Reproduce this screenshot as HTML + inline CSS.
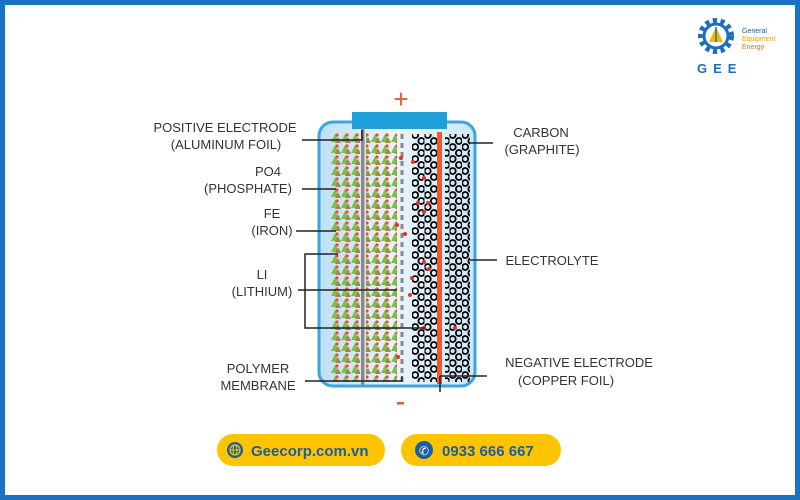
<!DOCTYPE html>
<html><head><meta charset="utf-8"><style>
html,body{margin:0;padding:0;}
body{width:800px;height:500px;overflow:hidden;background:#fff;}
svg{display:block}
text{font-family:"Liberation Sans",sans-serif;}
</style></head><body>
<svg width="800" height="500" viewBox="0 0 800 500">
<defs>
<linearGradient id="bg" x1="0" x2="1">
<stop offset="0" stop-color="#bfdff5"/><stop offset="0.5" stop-color="#e8f3fb"/><stop offset="1" stop-color="#cfe6f6"/>
</linearGradient>
<pattern id="green" x="331" y="132" width="10" height="11" patternUnits="userSpaceOnUse">
<polygon points="0,10 4,2 8,10" fill="#7cc242"/>
<polygon points="4,11 7,5 10,11" fill="#a8834f"/>
<circle cx="6" cy="3" r="1.6" fill="#ef4a2b"/>
</pattern>
<pattern id="hex" x="412" y="132" width="12.5" height="12" patternUnits="userSpaceOnUse">
<circle cx="3.2" cy="3" r="3" fill="none" stroke="#000" stroke-width="1.8"/>
<circle cx="9.4" cy="9" r="3" fill="none" stroke="#000" stroke-width="1.8"/>
<circle cx="9.4" cy="-3" r="3" fill="none" stroke="#000" stroke-width="1.8"/>
<circle cx="3.2" cy="15" r="3" fill="none" stroke="#000" stroke-width="1.8"/>
</pattern>
</defs>
<rect x="2.5" y="2.5" width="795" height="495" fill="#fff" stroke="#1b72c4" stroke-width="5"/>
<!-- logo -->
<g transform="translate(716,36)">
<circle r="15" fill="none" stroke="#1b6fc0" stroke-width="6" stroke-dasharray="4 3.5"/>
<circle r="12" fill="#fff" stroke="#1b6fc0" stroke-width="3"/>
<polygon points="0,-9 -7,6 7,6" fill="#f5b800"/>
<line x1="0" y1="-9" x2="0" y2="6" stroke="#1b6fc0" stroke-width="1.5"/>
</g>
<text x="742" y="33" font-size="7" fill="#1b5fa0">General</text>
<text x="742" y="41" font-size="7" fill="#e8a300">Equipment</text>
<text x="742" y="49" font-size="7" fill="#c0762a">Energy</text>
<text x="697" y="73" font-size="13" font-weight="bold" fill="#1b6fc0" letter-spacing="6">GEE</text>
<!-- battery -->
<rect x="319" y="122" width="156" height="264" rx="14" fill="url(#bg)" stroke="#3aa6e0" stroke-width="3"/>
<rect x="352" y="112" width="95" height="17" fill="#1e9fd8"/>
<rect x="331" y="132" width="29" height="250" fill="url(#green)"/>
<rect x="366" y="132" width="31" height="250" fill="url(#green)"/>
<rect x="361" y="128" width="3.5" height="257" fill="#8a8a8a"/>
<line x1="402" y1="134" x2="402" y2="384" stroke="#888" stroke-width="3" stroke-dasharray="5 4"/>
<rect x="412" y="134" width="25" height="248" fill="url(#hex)"/>
<rect x="445" y="134" width="25" height="248" fill="url(#hex)"/>
<rect x="437" y="132" width="5" height="252" fill="#ee5a2a"/>
<g fill="#e8302a">
<circle cx="401" cy="158" r="2"/><circle cx="413" cy="162" r="2"/><circle cx="424" cy="178" r="2"/>
<circle cx="418" cy="203" r="2"/><circle cx="428" cy="203" r="2"/><circle cx="424" cy="212" r="2"/>
<circle cx="397" cy="225" r="2"/><circle cx="405" cy="234" r="2"/><circle cx="424" cy="262" r="2"/>
<circle cx="429" cy="269" r="2"/><circle cx="412" cy="278" r="2"/><circle cx="410" cy="295" r="2"/>
<circle cx="424" cy="328" r="2"/><circle cx="455" cy="328" r="2"/><circle cx="398" cy="357" r="2"/>
</g>
<text x="401" y="108" font-size="26" fill="#ee5a2a" text-anchor="middle">+</text>
<rect x="397" y="402" width="7" height="2.5" fill="#ee5a2a"/>
<!-- connectors -->
<g stroke="#222" stroke-width="1.5" fill="none">
<polyline points="302,140 362,140 362,130"/>
<line x1="302" y1="189" x2="336" y2="189"/>
<line x1="296" y1="231" x2="336" y2="231"/>
<polyline points="338,254 305,254 305,328 425,328"/>
<line x1="298" y1="290" x2="397" y2="290"/>
<polyline points="305,381 402,381 402,376"/>
<line x1="470" y1="143" x2="493" y2="143"/>
<line x1="470" y1="260" x2="497" y2="260"/>
<polyline points="440,376 487,376"/>
<line x1="440" y1="376" x2="440" y2="392"/>
</g>
<!-- labels -->
<g font-size="13" fill="#333" text-anchor="middle">
<text x="225" y="132">POSITIVE ELECTRODE</text>
<text x="226" y="149">(ALUMINUM FOIL)</text>
<text x="268" y="176">PO4</text>
<text x="248" y="193">(PHOSPHATE)</text>
<text x="272" y="218">FE</text>
<text x="272" y="235">(IRON)</text>
<text x="262" y="279">LI</text>
<text x="262" y="296">(LITHIUM)</text>
<text x="258" y="373">POLYMER</text>
<text x="258" y="390">MEMBRANE</text>
<text x="541" y="137">CARBON</text>
<text x="542" y="154">(GRAPHITE)</text>
<text x="552" y="265">ELECTROLYTE</text>
<text x="579" y="367">NEGATIVE ELECTRODE</text>
<text x="566" y="385">(COPPER FOIL)</text>
</g>
<!-- buttons -->
<rect x="217" y="434" width="168" height="32" rx="16" fill="#ffc400"/>
<circle cx="235" cy="450" r="8" fill="#1b5fa0"/>
<circle cx="235" cy="450" r="5" fill="none" stroke="#ffc400" stroke-width="1.2"/>
<line x1="230" y1="450" x2="240" y2="450" stroke="#ffc400" stroke-width="1"/>
<ellipse cx="235" cy="450" rx="2" ry="5" fill="none" stroke="#ffc400" stroke-width="1"/>
<text x="251" y="456" font-size="15" font-weight="bold" fill="#1b5fa0">Geecorp.com.vn</text>
<rect x="401" y="434" width="160" height="32" rx="16" fill="#ffc400"/>
<circle cx="424" cy="450" r="9" fill="#1b5fa0"/>
<text x="424" y="455" font-size="12" fill="#fff" text-anchor="middle">✆</text>
<text x="442" y="456" font-size="15" font-weight="bold" fill="#1b5fa0">0933 666 667</text>
</svg>
</body></html>
